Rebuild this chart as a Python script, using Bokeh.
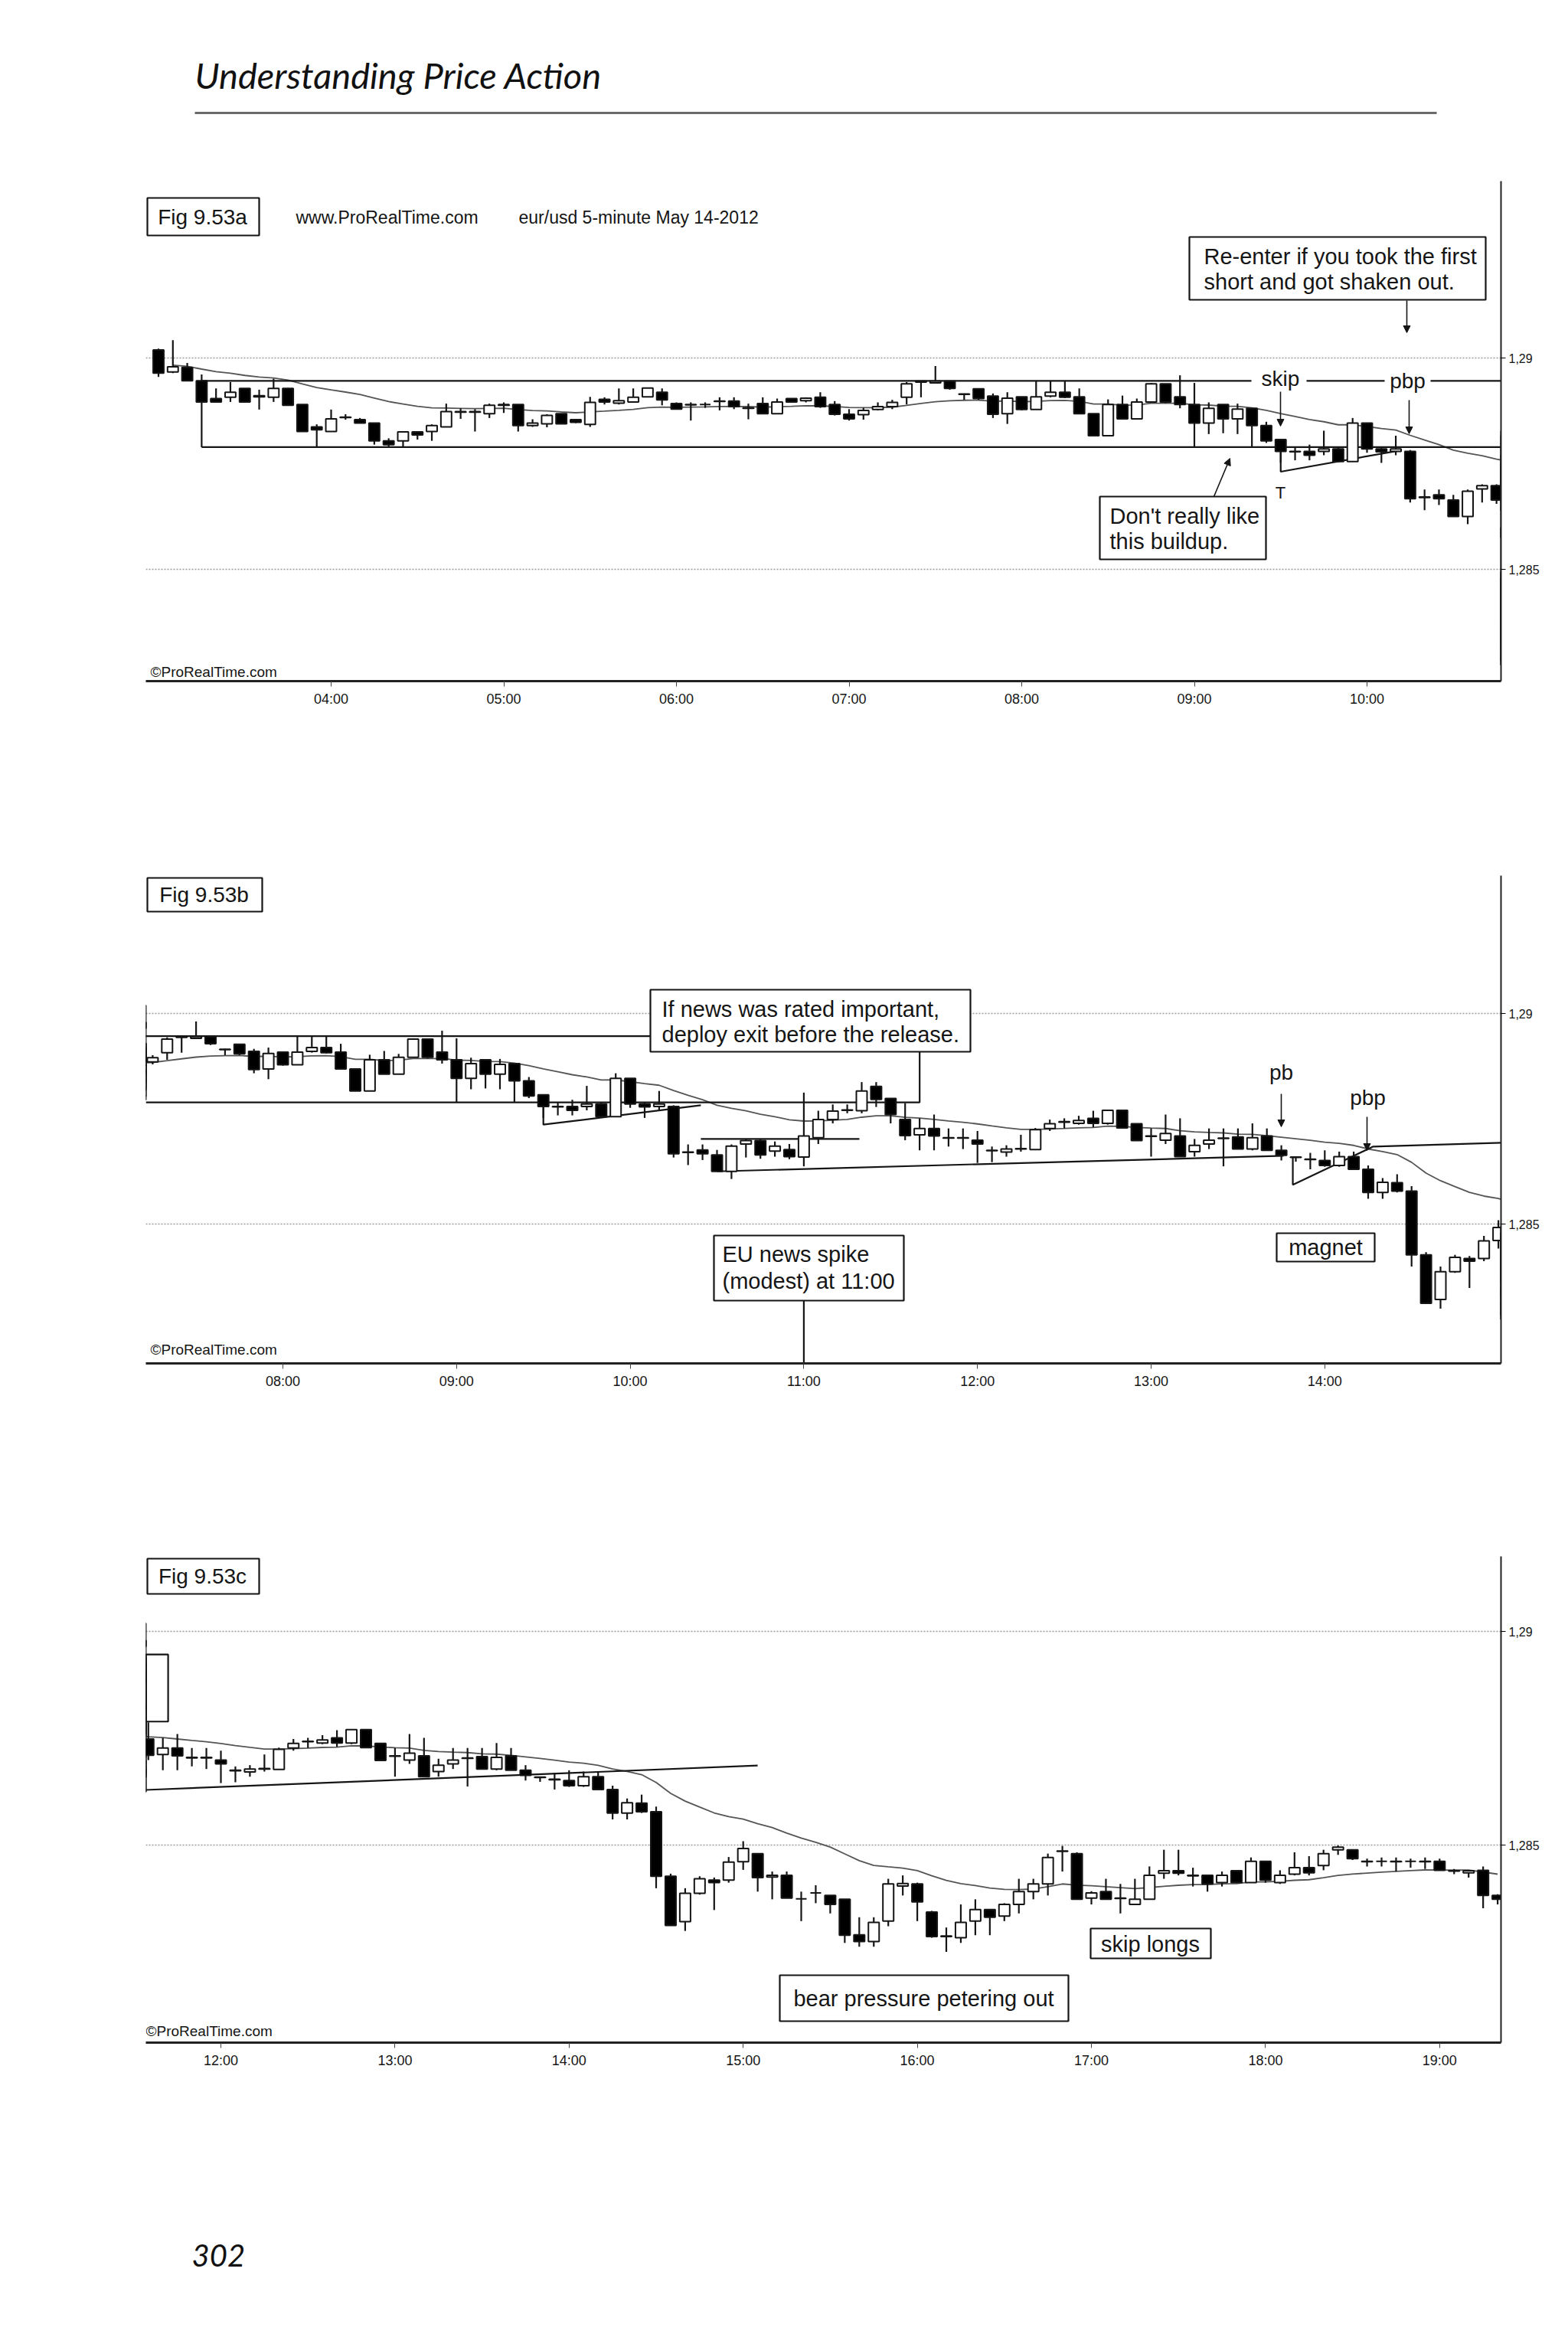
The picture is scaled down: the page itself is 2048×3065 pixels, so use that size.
from bokeh.plotting import figure
from bokeh.layouts import column
from bokeh.models import (ColumnDataSource, Range1d, FixedTicker, CustomJSTickFormatter,
                          Label, BoxAnnotation, Arrow, NormalHead)
from bokeh.embed import file_html
from bokeh.resources import INLINE

# ---------------- data: EUR/USD 5-minute, May 14 2012, 03:00 .. 19:20 ----------------
start_hour = 3.0
bar_minutes = 5

opens = [
    1.29019, 1.28967, 1.28978, 1.28946, 1.28904, 1.28907, 1.28928, 1.28911, 1.28907, 1.28928, 1.28890, 1.28837,
    1.28826, 1.28860, 1.28854, 1.28846, 1.28804, 1.28804, 1.28825, 1.28826, 1.28837, 1.28873, 1.28873, 1.28868,
    1.28890, 1.28890, 1.28840, 1.28844, 1.28868, 1.28854, 1.28843, 1.28902, 1.28893, 1.28896, 1.28908, 1.28919,
    1.28892, 1.28890, 1.28890, 1.28898, 1.28898, 1.28882, 1.28892, 1.28868, 1.28904, 1.28899, 1.28907, 1.28890,
    1.28867, 1.28866, 1.28878, 1.28885, 1.28907, 1.28943, 1.28941, 1.28945, 1.28915, 1.28927, 1.28910, 1.28868,
    1.28908, 1.28878, 1.28910, 1.28919, 1.28908, 1.28868, 1.28816, 1.28890, 1.28856, 1.28896, 1.28939, 1.28908,
    1.28890, 1.28846, 1.28890, 1.28856, 1.28881, 1.28840, 1.28807, 1.28779, 1.28779, 1.28779, 1.28785, 1.28755,
    1.28846, 1.28785, 1.28779, 1.28779, 1.28670, 1.28676, 1.28664, 1.28625, 1.28690, 1.28698, 1.28673, 1.28677,
    1.28659, 1.28705, 1.28748, 1.28770, 1.28769, 1.28827, 1.28798, 1.28748, 1.28712, 1.28727, 1.28705, 1.28705,
    1.28699, 1.28675, 1.28671, 1.28678, 1.28677, 1.28727, 1.28742, 1.28739, 1.28751, 1.28739, 1.28770, 1.28738,
    1.28709, 1.28699, 1.28709, 1.28672, 1.28690, 1.28704, 1.28707, 1.28678, 1.28709, 1.28675, 1.28659, 1.28654,
    1.28651, 1.28639, 1.28660, 1.28630, 1.28575, 1.28598, 1.28578, 1.28427, 1.28321, 1.28387, 1.28418, 1.28418,
    1.28461, 1.28480, 1.28425, 1.28429, 1.28374, 1.28388, 1.28382, 1.28373, 1.28290, 1.28274, 1.28322, 1.28404,
    1.28409, 1.28343, 1.28286, 1.28283, 1.28322, 1.28349, 1.28334, 1.28361, 1.28391, 1.28409, 1.28486, 1.28480,
    1.28376, 1.28391, 1.28376, 1.28361, 1.28373, 1.28434, 1.28440, 1.28429, 1.28429, 1.28412, 1.28440, 1.28412,
    1.28462, 1.28412, 1.28432, 1.28447, 1.28452, 1.28489, 1.28489, 1.28462, 1.28462, 1.28462, 1.28462, 1.28462,
    1.28462, 1.28440, 1.28435, 1.28441, 1.28382,
]
highs = [
    1.29022, 1.29042, 1.28988, 1.28961, 1.28928, 1.28943, 1.28928, 1.28925, 1.28951, 1.28929, 1.28890, 1.28843,
    1.28878, 1.28867, 1.28858, 1.28846, 1.28810, 1.28825, 1.28825, 1.28843, 1.28892, 1.28881, 1.28879, 1.28892,
    1.28895, 1.28890, 1.28855, 1.28867, 1.28868, 1.28855, 1.28908, 1.28907, 1.28928, 1.28928, 1.28929, 1.28928,
    1.28895, 1.28895, 1.28895, 1.28907, 1.28907, 1.28892, 1.28907, 1.28904, 1.28904, 1.28907, 1.28919, 1.28898,
    1.28879, 1.28882, 1.28895, 1.28901, 1.28943, 1.28946, 1.28981, 1.28946, 1.28916, 1.28928, 1.28916, 1.28919,
    1.28908, 1.28946, 1.28946, 1.28946, 1.28928, 1.28868, 1.28902, 1.28911, 1.28904, 1.28941, 1.28939, 1.28959,
    1.28941, 1.28895, 1.28890, 1.28892, 1.28882, 1.28849, 1.28807, 1.28789, 1.28795, 1.28828, 1.28789, 1.28858,
    1.28846, 1.28789, 1.28816, 1.28782, 1.28689, 1.28689, 1.28676, 1.28689, 1.28701, 1.28701, 1.28696, 1.28690,
    1.28812, 1.28769, 1.28784, 1.28784, 1.28837, 1.28837, 1.28798, 1.28787, 1.28751, 1.28760, 1.28727, 1.28727,
    1.28721, 1.28684, 1.28687, 1.28712, 1.28728, 1.28748, 1.28751, 1.28757, 1.28769, 1.28770, 1.28770, 1.28738,
    1.28727, 1.28760, 1.28751, 1.28702, 1.28727, 1.28727, 1.28727, 1.28739, 1.28727, 1.28687, 1.28660, 1.28669,
    1.28675, 1.28672, 1.28672, 1.28639, 1.28609, 1.28618, 1.28590, 1.28433, 1.28399, 1.28427, 1.28424, 1.28472,
    1.28509, 1.28480, 1.28438, 1.28438, 1.28391, 1.28406, 1.28382, 1.28373, 1.28331, 1.28331, 1.28421, 1.28429,
    1.28412, 1.28346, 1.28307, 1.28361, 1.28373, 1.28349, 1.28364, 1.28421, 1.28421, 1.28480, 1.28498, 1.28483,
    1.28392, 1.28421, 1.28409, 1.28421, 1.28450, 1.28489, 1.28489, 1.28447, 1.28429, 1.28438, 1.28440, 1.28471,
    1.28462, 1.28441, 1.28483, 1.28474, 1.28489, 1.28499, 1.28489, 1.28468, 1.28471, 1.28471, 1.28468, 1.28471,
    1.28468, 1.28444, 1.28441, 1.28450, 1.28385,
]
lows = [
    1.28955, 1.28964, 1.28945, 1.28896, 1.28895, 1.28896, 1.28896, 1.28878, 1.28896, 1.28888, 1.28826, 1.28789,
    1.28826, 1.28854, 1.28846, 1.28795, 1.28789, 1.28789, 1.28807, 1.28804, 1.28837, 1.28856, 1.28826, 1.28858,
    1.28870, 1.28826, 1.28837, 1.28836, 1.28844, 1.28846, 1.28837, 1.28890, 1.28890, 1.28895, 1.28908, 1.28888,
    1.28878, 1.28852, 1.28882, 1.28876, 1.28879, 1.28855, 1.28868, 1.28868, 1.28895, 1.28895, 1.28882, 1.28864,
    1.28852, 1.28854, 1.28876, 1.28879, 1.28890, 1.28907, 1.28940, 1.28925, 1.28901, 1.28901, 1.28858, 1.28844,
    1.28876, 1.28878, 1.28907, 1.28905, 1.28868, 1.28816, 1.28816, 1.28856, 1.28856, 1.28896, 1.28893, 1.28881,
    1.28789, 1.28820, 1.28822, 1.28820, 1.28789, 1.28799, 1.28752, 1.28758, 1.28758, 1.28770, 1.28755, 1.28755,
    1.28776, 1.28752, 1.28770, 1.28658, 1.28640, 1.28652, 1.28625, 1.28607, 1.28658, 1.28655, 1.28660, 1.28654,
    1.28637, 1.28690, 1.28739, 1.28763, 1.28763, 1.28778, 1.28739, 1.28699, 1.28675, 1.28675, 1.28684, 1.28678,
    1.28645, 1.28647, 1.28660, 1.28672, 1.28677, 1.28721, 1.28727, 1.28736, 1.28730, 1.28736, 1.28728, 1.28698,
    1.28660, 1.28690, 1.28660, 1.28660, 1.28678, 1.28637, 1.28678, 1.28675, 1.28675, 1.28651, 1.28648, 1.28630,
    1.28636, 1.28636, 1.28630, 1.28560, 1.28560, 1.28575, 1.28399, 1.28312, 1.28299, 1.28384, 1.28348, 1.28412,
    1.28442, 1.28391, 1.28373, 1.28376, 1.28322, 1.28364, 1.28340, 1.28271, 1.28262, 1.28262, 1.28310, 1.28382,
    1.28322, 1.28283, 1.28250, 1.28271, 1.28289, 1.28289, 1.28322, 1.28340, 1.28373, 1.28382, 1.28438, 1.28373,
    1.28361, 1.28373, 1.28340, 1.28361, 1.28373, 1.28421, 1.28429, 1.28403, 1.28391, 1.28403, 1.28412, 1.28412,
    1.28412, 1.28409, 1.28429, 1.28429, 1.28441, 1.28477, 1.28465, 1.28450, 1.28450, 1.28438, 1.28447, 1.28444,
    1.28441, 1.28432, 1.28424, 1.28352, 1.28361,
]
closes = [
    1.28964, 1.28979, 1.28946, 1.28896, 1.28896, 1.28919, 1.28896, 1.28908, 1.28928, 1.28888, 1.28826, 1.28830,
    1.28856, 1.28859, 1.28846, 1.28804, 1.28795, 1.28825, 1.28818, 1.28840, 1.28873, 1.28872, 1.28872, 1.28888,
    1.28888, 1.28840, 1.28846, 1.28864, 1.28844, 1.28848, 1.28895, 1.28896, 1.28899, 1.28907, 1.28929, 1.28901,
    1.28879, 1.28889, 1.28890, 1.28897, 1.28885, 1.28881, 1.28868, 1.28896, 1.28896, 1.28905, 1.28885, 1.28867,
    1.28856, 1.28876, 1.28885, 1.28895, 1.28939, 1.28945, 1.28945, 1.28928, 1.28914, 1.28904, 1.28867, 1.28905,
    1.28878, 1.28908, 1.28919, 1.28907, 1.28868, 1.28816, 1.28890, 1.28856, 1.28896, 1.28939, 1.28896, 1.28890,
    1.28846, 1.28881, 1.28856, 1.28879, 1.28840, 1.28804, 1.28779, 1.28778, 1.28770, 1.28785, 1.28755, 1.28846,
    1.28785, 1.28778, 1.28785, 1.28667, 1.28671, 1.28667, 1.28625, 1.28685, 1.28698, 1.28664, 1.28685, 1.28660,
    1.28709, 1.28748, 1.28768, 1.28771, 1.28816, 1.28796, 1.28760, 1.28710, 1.28727, 1.28709, 1.28704, 1.28704,
    1.28690, 1.28674, 1.28678, 1.28679, 1.28724, 1.28738, 1.28743, 1.28746, 1.28739, 1.28770, 1.28728, 1.28698,
    1.28708, 1.28715, 1.28660, 1.28687, 1.28699, 1.28703, 1.28678, 1.28705, 1.28675, 1.28663, 1.28658, 1.28653,
    1.28639, 1.28660, 1.28630, 1.28575, 1.28599, 1.28578, 1.28427, 1.28312, 1.28387, 1.28421, 1.28412, 1.28460,
    1.28492, 1.28424, 1.28429, 1.28376, 1.28374, 1.28388, 1.28361, 1.28289, 1.28274, 1.28319, 1.28409, 1.28410,
    1.28367, 1.28286, 1.28287, 1.28319, 1.28349, 1.28331, 1.28361, 1.28391, 1.28409, 1.28471, 1.28485, 1.28373,
    1.28388, 1.28373, 1.28375, 1.28373, 1.28429, 1.28440, 1.28434, 1.28428, 1.28409, 1.28429, 1.28412, 1.28462,
    1.28418, 1.28429, 1.28447, 1.28435, 1.28480, 1.28495, 1.28468, 1.28461, 1.28462, 1.28461, 1.28462, 1.28461,
    1.28441, 1.28439, 1.28440, 1.28382, 1.28373,
]

ema_period = 25
ema_seed = 1.28985
price_ticks = [1.285, 1.29]
hours_a = [4, 5, 6, 7, 8, 9, 10]
hours_b = [8, 9, 10, 11, 12, 13, 14]
hours_c = [12, 13, 14, 15, 16, 17, 18, 19]
range_high = 1.28946
range_low = 1.28789

# ---------------- derived ----------------
times = [start_hour + i * bar_minutes / 60.0 for i in range(len(opens))]
alpha = 2.0 / (ema_period + 1)
ema, e = [], ema_seed
for c in closes:
    e = e + alpha * (c - e)
    ema.append(e)

BW = 0.74 * bar_minutes / 60.0
W = 2040
FL, FR = 190, 1960
SANS = "Liberation Sans"
INK = "#151515"
ANN = 29


class Cal:
    """Maps reference page pixels to a chart's (hour, price) coordinates."""
    def __init__(self, x_px, hour, pph, y_px, price, ppu, top, bottom):
        self.x_px, self.hour, self.pph = x_px, hour, pph
        self.y_px, self.price, self.ppu = y_px, price, ppu
        self.top, self.bottom = top, bottom

    def t(self, x):
        return self.hour + (x - self.x_px) / self.pph

    def p(self, y):
        return self.price - (y - self.y_px) / self.ppu


cal_a = Cal(432, 4, 225.5, 467, 1.29, 55200, 236, 889)
cal_b = Cal(369, 8, 226.8, 1323, 1.29, 55000, 1143, 1780)
cal_c = Cal(288, 12, 227.4, 2130, 1.29, 55800, 2032, 2667)


def make_chart(cal, fig_top, fig_bottom, hours):
    p = figure(width=W, height=fig_bottom - fig_top,
               x_range=Range1d(cal.t(FL), cal.t(FR)),
               y_range=Range1d(cal.p(cal.bottom), cal.p(cal.top)),
               y_axis_location="right", output_backend="svg", toolbar_location=None,
               min_border_left=FL, min_border_right=W - FR,
               min_border_top=cal.top - fig_top, min_border_bottom=fig_bottom - cal.bottom,
               background_fill_color="white", border_fill_color="white")
    p.outline_line_color = None
    p.xgrid.visible = False
    p.ygrid.ticker = FixedTicker(ticks=price_ticks)
    p.ygrid.grid_line_color = "#9a9a9a"
    p.ygrid.grid_line_dash = "2 2"
    p.ygrid.grid_line_width = 1.5

    p.xaxis.ticker = FixedTicker(ticks=hours)
    p.xaxis.formatter = CustomJSTickFormatter(
        code="const h = Math.round(tick); return (h < 10 ? '0' : '') + h + ':00';")
    p.xaxis.axis_line_width = 3
    p.xaxis.axis_line_color = "#222"
    p.xaxis.major_tick_in = 0
    p.xaxis.major_tick_out = 7
    p.xaxis.major_tick_line_color = "#444"
    p.xaxis.minor_tick_line_color = None
    p.xaxis.major_label_standoff = 6
    p.xaxis.major_label_text_font = SANS
    p.xaxis.major_label_text_font_size = "18px"
    p.xaxis.major_label_text_color = INK

    p.yaxis.ticker = FixedTicker(ticks=price_ticks)
    p.yaxis.formatter = CustomJSTickFormatter(
        code="return tick.toFixed(3).replace(/0+$/, '').replace('.', ',');")
    p.yaxis.axis_line_width = 2
    p.yaxis.axis_line_color = "#222"
    p.yaxis.major_tick_in = 0
    p.yaxis.major_tick_out = 6
    p.yaxis.minor_tick_line_color = None
    p.yaxis.major_label_standoff = 4
    p.yaxis.major_label_text_font = SANS
    p.yaxis.major_label_text_font_size = "16px"
    p.yaxis.major_label_text_color = INK

    # moving average (behind the candles)
    p.line(times[1:], ema[1:], line_color="#555555", line_width=1.8)
    return p


def draw_candles(p):
    src = ColumnDataSource(dict(
        x=times, high=highs, low=lows,
        top=[max(o, c) for o, c in zip(opens, closes)],
        bottom=[min(o, c) for o, c in zip(opens, closes)],
        fill=["white" if c >= o else "black" for o, c in zip(opens, closes)],
    ))
    p.segment(x0="x", y0="low", x1="x", y1="high", source=src, line_color=INK, line_width=2.2)
    p.vbar(x="x", width=BW, top="top", bottom="bottom", fill_color="fill",
           line_color=INK, line_width=2.0, source=src)


def lines(p, pts_list, width=2.2):
    for pts in pts_list:
        p.line([q[0] for q in pts], [q[1] for q in pts], line_color=INK, line_width=width)


def txt(p, cal, x, y, s, size=ANN, align="left", font=SANS, style="normal"):
    p.add_layout(Label(x=cal.t(x), y=cal.p(y), text=s, text_font=font,
                       text_font_size=f"{size}px", text_font_style=style,
                       text_align=align, text_baseline="middle", text_color=INK))


def box(p, cal, x0, y0, x1, y1):
    p.add_layout(BoxAnnotation(left=cal.t(x0), right=cal.t(x1), top=cal.p(y0), bottom=cal.p(y1),
                               fill_color="white", fill_alpha=1.0, line_color=INK,
                               line_alpha=1.0, line_width=2.2))


def arrow(p, cal, x0, y0, x1, y1):
    p.add_layout(Arrow(end=NormalHead(size=9, fill_color=INK, line_color=INK),
                       x_start=cal.t(x0), y_start=cal.p(y0), x_end=cal.t(x1), y_end=cal.p(y1),
                       line_color=INK, line_width=1.6))


def page_fig(top, bottom):
    f = figure(width=W, height=bottom - top, x_range=Range1d(FL, FR), y_range=Range1d(bottom, top),
               output_backend="svg", toolbar_location=None,
               min_border_left=FL, min_border_right=W - FR, min_border_top=0, min_border_bottom=0,
               background_fill_color="white", border_fill_color="white")
    f.axis.visible = False
    f.grid.visible = False
    f.outline_line_color = None
    return f


# ---------------- header ----------------
header = page_fig(0, 200)
header.add_layout(Label(x=254, y=97, text="Understanding Price Action", text_font="Lato",
                        text_font_style="italic", text_font_size="47px",
                        text_baseline="middle", text_color="#111"))
header.segment(x0=[254], y0=[147], x1=[1876], y1=[147], line_color="#6a6a6a", line_width=3)

# ---------------- chart a ----------------
fa = make_chart(cal_a, 200, 964, hours_a)
ra = cal_a
t_end_a = ra.t(FR)
lines(fa, [
    [(3.25, range_high), (ra.t(1634), range_high)],
    [(ra.t(1706), range_high), (ra.t(1808), range_high)],
    [(ra.t(1868), range_high), (t_end_a, range_high)],
    [(3.25, range_low), (t_end_a, range_low)],
    [(3.25, range_low), (3.25, range_high)],
    [(9.5, range_low), (9.5, 1.28731), (10.2, 1.28782)],
])
draw_candles(fa)
box(fa, ra, 192, 258, 338, 307)
txt(fa, ra, 264, 283, "Fig 9.53a", 28, "center")
txt(fa, ra, 386, 283, "www.ProRealTime.com", 23)
txt(fa, ra, 677, 283, "eur/usd  5-minute  May 14-2012", 23)
box(fa, ra, 1553, 309, 1940, 391)
txt(fa, ra, 1572, 334, "Re-enter if you took the first")
txt(fa, ra, 1572, 367, "short and got shaken out.")
arrow(fa, ra, 1837, 392, 1837, 434)
txt(fa, ra, 1672, 494, "skip", 28, "center")
arrow(fa, ra, 1672, 511, 1672, 556)
txt(fa, ra, 1838, 497, "pbp", 28, "center")
arrow(fa, ra, 1840, 522, 1840, 566)
txt(fa, ra, 1672, 643, "T", 22, "center")
box(fa, ra, 1436, 648, 1653, 730)
txt(fa, ra, 1449, 673, "Don't really like")
txt(fa, ra, 1449, 706, "this buildup.")
arrow(fa, ra, 1585, 648, 1606, 598)
txt(fa, ra, 196, 877, "\u00a9ProRealTime.com", 19)

# ---------------- chart b ----------------
fb = make_chart(cal_b, 964, 1855, hours_b)
rb = cal_b
t0_b, t_end_b = rb.t(FL), rb.t(FR)
lines(fb, [
    [(t0_b, range_high), (rb.t(849), range_high)],
    [(t0_b, range_low), (11.667, range_low), (11.667, rb.p(1373))],
    [(10.407, 1.28702), (11.32, 1.28702)],
    [(9.5, range_low), (9.5, 1.28736), (10.407, 1.28782)],
    [(10.5, 1.28625), (13.763, 1.28662)],
    [(13.816, 1.28660), (13.816, 1.28593), (14.279, 1.28684), (t_end_b, 1.28693)],
    [(11.0, rb.p(1698)), (11.0, rb.p(1780))],
])
draw_candles(fb)
box(fb, rb, 192, 1146, 342, 1190)
txt(fb, rb, 266, 1168, "Fig 9.53b", 28, "center")
box(fb, rb, 849, 1292, 1267, 1373)
txt(fb, rb, 864, 1317, "If news was rated important,")
txt(fb, rb, 864, 1350, "deploy exit before the release.")
txt(fb, rb, 1673, 1400, "pb", 28, "center")
arrow(fb, rb, 1673, 1428, 1673, 1471)
txt(fb, rb, 1786, 1433, "pbp", 28, "center")
arrow(fb, rb, 1785, 1458, 1785, 1502)
box(fb, rb, 1667, 1610, 1795, 1647)
txt(fb, rb, 1731, 1628, "magnet", ANN, "center")
box(fb, rb, 932, 1613, 1180, 1698)
txt(fb, rb, 943, 1637, "EU news spike")
txt(fb, rb, 943, 1672, "(modest) at 11:00")
txt(fb, rb, 196, 1762, "\u00a9ProRealTime.com", 19)

# ---------------- chart c ----------------
fc = make_chart(cal_c, 1855, 2742, hours_c)
rc = cal_c
t0_c = rc.t(FL)
lines(fc, [
    [(t0_c, range_high), (11.697, range_high), (11.697, range_low), (t0_c, range_low)],
    [(11.565, 1.28629), (15.083, 1.28686)],
])
draw_candles(fc)
box(fc, rc, 192, 2035, 338, 2081)
txt(fc, rc, 264, 2058, "Fig 9.53c", 28, "center")
box(fc, rc, 1424, 2518, 1581, 2557)
txt(fc, rc, 1502, 2538, "skip longs", ANN, "center")
box(fc, rc, 1018, 2579, 1395, 2639)
txt(fc, rc, 1206, 2609, "bear pressure petering out", ANN, "center")
txt(fc, rc, 190, 2652, "\u00a9ProRealTime.com", 19)

# ---------------- footer ----------------
footer = page_fig(2742, 3040)
footer.add_layout(Label(x=250, y=2945, text="302", text_font="Lato", text_font_style="italic",
                        text_font_size="40px", text_baseline="middle", text_color="#111"))

page = column(header, fa, fb, fc, footer, spacing=0)
open("out.html", "w", encoding="utf-8").write(file_html(page, INLINE))
